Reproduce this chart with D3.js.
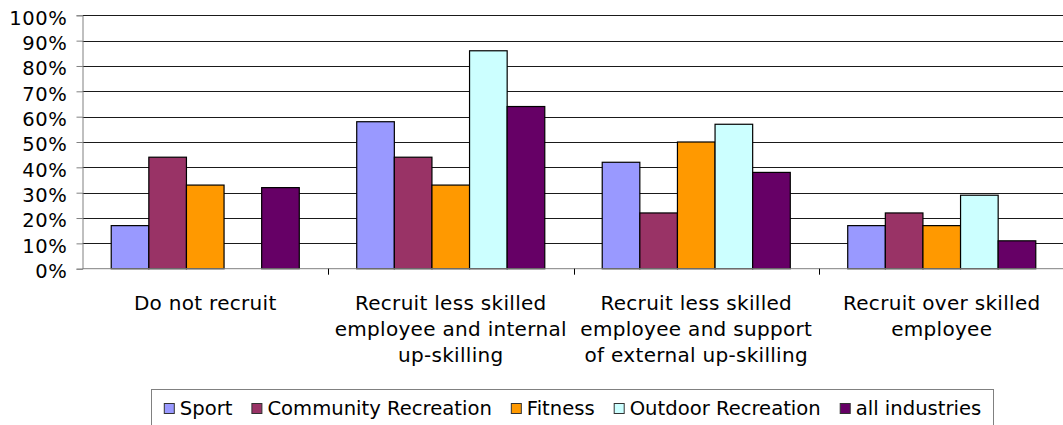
<!DOCTYPE html>
<html>
<head>
<meta charset="utf-8">
<script src="https://cdn.jsdelivr.net/npm/d3@7"></script>
<style>
  html, body { margin: 0; padding: 0; background: #fff; }
  svg { display: block; }
  text { font-family: "DejaVu Sans", Verdana, sans-serif; fill: #000; }
</style>
</head>
<body>
<svg id="chart" width="1063" height="425"></svg>
<script>
// Recruitment strategies by industry sector (share of respondents)
const categories = [
  "Do not recruit",
  "Recruit less skilled employee and internal up-skilling",
  "Recruit less skilled employee and support of external up-skilling",
  "Recruit over skilled employee"
];
const seriesNames = ["Sport", "Community Recreation", "Fitness", "Outdoor Recreation", "all industries"];
const sport              = [0.17, 0.58, 0.42, 0.17];
const communityRecreation = [0.44, 0.44, 0.22, 0.22];
const fitness            = [0.33, 0.33, 0.50, 0.17];
const outdoorRecreation  = [0.00, 0.86, 0.57, 0.29];
const allIndustries      = [0.32, 0.64, 0.38, 0.11];
const yTicks = [0, 0.1, 0.2, 0.3, 0.4, 0.5, 0.6, 0.7, 0.8, 0.9, 1.0];
const colors = ["#9999FF", "#993366", "#FF9900", "#CCFFFF", "#660066"];

const seriesValues = [sport, communityRecreation, fitness, outdoorRecreation, allIndustries];
const rows = categories.map((c, i) => ({
  category: c,
  values: seriesNames.map((s, j) => ({ series: s, value: seriesValues[j][i] }))
}));

const svg = d3.select("#chart");
const plot = { left: 82.5, right: 1064.5, top: 15.3, bottom: 268.7 };

const x0 = d3.scaleBand().domain(categories).range([plot.left, plot.right]).padding(0);
const inner = x0.bandwidth() * 0.117;
const x1 = d3.scaleBand().domain(seriesNames).range([inner, x0.bandwidth() - inner]).padding(0);
const y = d3.scaleLinear().domain([0, 1]).range([plot.bottom, plot.top]);
const color = d3.scaleOrdinal().domain(seriesNames).range(colors);

// horizontal gridlines
svg.append("g")
  .selectAll("line")
  .data(yTicks.filter(d => d > 0))
  .join("line")
  .attr("x1", plot.left).attr("x2", plot.right)
  .attr("y1", d => Math.round(y(d)) + 0.5).attr("y2", d => Math.round(y(d)) + 0.5)
  .attr("stroke", "#1a1a1a").attr("stroke-width", 1);

// bars
svg.append("g")
  .selectAll("g")
  .data(rows)
  .join("g")
  .attr("transform", d => `translate(${x0(d.category)},0)`)
  .selectAll("rect")
  .data(d => d.values.filter(v => v.value > 0))
  .join("rect")
  .attr("x", d => x1(d.series))
  .attr("y", d => y(d.value))
  .attr("width", x1.bandwidth())
  .attr("height", d => y(0) - y(d.value))
  .attr("fill", d => color(d.series))
  .attr("stroke", "#000")
  .attr("stroke-width", 1.2);

// y axis
const yAxis = d3.axisLeft(y)
  .tickValues(yTicks)
  .tickFormat(d3.format(".0%"))
  .tickSize(6)
  .tickPadding(9);
const yg = svg.append("g")
  .attr("transform", `translate(${plot.left},0)`)
  .call(yAxis);
yg.select(".domain").attr("stroke", "#808080");
yg.selectAll(".tick line").attr("stroke", "#808080");
yg.selectAll(".tick text")
  .attr("font-family", "DejaVu Sans, Verdana, sans-serif")
  .attr("font-size", 19.5)
  .attr("letter-spacing", 0.6)
  .attr("dy", "0.45em")
  .attr("fill", "#000");

// x axis: ticks at category boundaries
const xg = svg.append("g").attr("transform", `translate(0,${plot.bottom})`);
xg.append("line")
  .attr("x1", plot.left).attr("x2", plot.right)
  .attr("stroke", "#808080");
xg.selectAll("line.tk")
  .data(categories.slice(1))
  .join("line")
  .attr("class", "tk")
  .attr("x1", d => Math.round(x0(d)) + 0.5).attr("x2", d => Math.round(x0(d)) + 0.5)
  .attr("y1", 0).attr("y2", 6)
  .attr("stroke", "#000");

// wrapped category labels
const labelSize = 20;
const lineHeight = 26;
const wrapWidth = 242;
const labels = xg.selectAll("text.cat")
  .data(categories)
  .join("text")
  .attr("class", "cat")
  .attr("text-anchor", "middle")
  .attr("font-size", labelSize)
  .attr("letter-spacing", 0.3)
  .attr("x", d => x0(d) + x0.bandwidth() / 2)
  .attr("y", 41.3);
labels.each(function(d) {
  const t = d3.select(this);
  const cx = x0(d) + x0.bandwidth() / 2;
  const words = d.split(" ");
  let line = [];
  let tspan = t.append("tspan").attr("x", cx).attr("dy", 0);
  for (const w of words) {
    line.push(w);
    tspan.text(line.join(" "));
    if (tspan.node().getComputedTextLength() > wrapWidth && line.length > 1) {
      line.pop();
      tspan.text(line.join(" "));
      line = [w];
      tspan = t.append("tspan").attr("x", cx).attr("dy", lineHeight).text(w);
    }
  }
});

// legend
const legendFont = 19.6;
const legend = svg.append("g");
legend.append("rect")
  .attr("x", 151.5).attr("y", 389.5)
  .attr("width", 842).attr("height", 50)
  .attr("fill", "#fff").attr("stroke", "#808080");
const items = legend.append("g");
let cursor = 0;
seriesNames.forEach(name => {
  const g = items.append("g").attr("transform", `translate(${cursor},0)`);
  g.append("rect")
    .attr("x", 0.5).attr("y", 403.5)
    .attr("width", 10).attr("height", 10)
    .attr("fill", color(name)).attr("stroke", "#333");
  const t = g.append("text")
    .attr("x", 16).attr("y", 415)
    .attr("font-size", legendFont)
    .text(name);
  cursor += 16 + t.node().getComputedTextLength() + 19;
});
const total = cursor - 19;
const boxCenter = 151.5 + 842 / 2;
items.attr("transform", `translate(${boxCenter - total / 2},0)`);
</script>
</body>
</html>
